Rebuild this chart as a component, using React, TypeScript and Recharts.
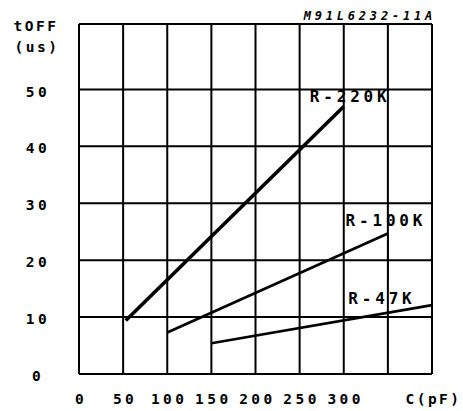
import React from 'react';
import { LineChart, Line, XAxis, YAxis, CartesianGrid, ReferenceLine, ReferenceDot } from 'recharts';

const xTicks = [0, 50, 100, 150, 200, 250, 300, 350, 400];
const xTickLabels = ['0', '50', '100', '150', '200', '250', '300', '', 'C(pF)'];
const yTicks = [0, 10, 20, 30, 40, 50];
const yMax = 61.5;

const r220C = [53, 300];
const r220T = [9.4, 47];
const r100C = [100, 350];
const r100T = [7.3, 24.7];
const r47C = [150, 400];
const r47T = [5.4, 12.1];
const leaderC = [350, 350];
const leaderT = [24.7, 16.5];

const seriesNames = ['R-220K', 'R-100K', 'R-47K'];
const labelC = [305, 345.5, 341];
const labelT = [48.85, 27.06, 13.35];

const toPts = (c: number[], t: number[]) => c.map((x, i) => ({ x, y: t[i] }));

const FONT = '"DejaVu Sans Mono", monospace';

const XTick = (props: any) => {
  const { x, y, payload } = props;
  const idx = xTicks.indexOf(payload.value);
  const txt = xTickLabels[idx] ?? '';
  const isUnit = payload.value === 400;
  return (
    <text x={x + (isUnit ? 1.5 : 2)} y={y + 23} textAnchor="middle" dy="0.35em" fontFamily={FONT} fontWeight="bold"
      fontSize={14.5} letterSpacing={isUnit ? 2.5 : 3.5} fill="#000">{txt}</text>
  );
};

const YTick = (props: any) => {
  const { y, payload } = props;
  return (
    <text x={38} y={y + 2} textAnchor="middle" dy="0.35em" fontFamily={FONT} fontWeight="bold"
      fontSize={14.5} letterSpacing={3.5} fill="#000">{payload.value}</text>
  );
};

const makeLabel = (text: string) => (p: any) => {
  const vb = p.viewBox || {};
  const cx = (vb.x ?? 0) + (vb.width ?? 0) / 2;
  const cy = (vb.y ?? 0) + (vb.height ?? 0) / 2;
  return (
    <text x={cx + 2} y={cy} textAnchor="middle" dy="0.35em" fontFamily={FONT} fontWeight="bold"
      fontSize={16} letterSpacing={3.8} fill="#000">{text}</text>
  );
};

export default function App() {
  return (
    <div style={{ position: 'absolute', left: 0, top: 0, width: 463, height: 411, background: '#fff' }}>
      <LineChart width={463} height={411} margin={{ top: 24, right: 31, bottom: 7, left: 19 }}>
        <CartesianGrid stroke="#000" strokeWidth={2} />
        <XAxis dataKey="x" type="number" domain={[0, 400]} ticks={xTicks} interval={0}
          axisLine={false} tickLine={false} tickSize={0} height={30} tick={<XTick />} />
        <YAxis type="number" domain={[0, yMax]} ticks={yTicks} interval={0} allowDataOverflow
          axisLine={false} tickLine={false} tickSize={0} width={60} tick={<YTick />} />
        <ReferenceLine y={yMax} stroke="#000" strokeWidth={2} />
        <ReferenceLine x={0} stroke="#000" strokeWidth={2} />
        <ReferenceLine x={400} stroke="#000" strokeWidth={2} />
        <Line data={toPts(r220C, r220T)} dataKey="y" stroke="#000" strokeWidth={3.6} dot={false} isAnimationActive={false} />
        <Line data={toPts(r100C, r100T)} dataKey="y" stroke="#000" strokeWidth={2.7} dot={false} isAnimationActive={false} />
        <Line data={toPts(r47C, r47T)} dataKey="y" stroke="#000" strokeWidth={2.7} dot={false} isAnimationActive={false} />
        <Line data={toPts(leaderC, leaderT)} dataKey="y" stroke="#000" strokeWidth={1.6} dot={false} isAnimationActive={false} />
        {seriesNames.map((n, i) => (
          <ReferenceDot key={n} x={labelC[i]} y={labelT[i]} r={0} fill="none" stroke="none" label={makeLabel(n)} />
        ))}
        <text x={36} y={26} textAnchor="middle" dy="0.35em" fontFamily={FONT} fontWeight="bold" fontSize={14.5} letterSpacing={2.5} fill="#000">tOFF</text>
        <text x={37} y={47} textAnchor="middle" dy="0.35em" fontFamily={FONT} fontWeight="bold" fontSize={14.5} letterSpacing={2.5} fill="#000">(us)</text>
        <text x={436} y={16} textAnchor="end" dy="0.35em" fontFamily={FONT} fontWeight="bold" fontStyle="italic" fontSize={12} letterSpacing={3.8} fill="#000">M91L6232-11A</text>
      </LineChart>
    </div>
  );
}
